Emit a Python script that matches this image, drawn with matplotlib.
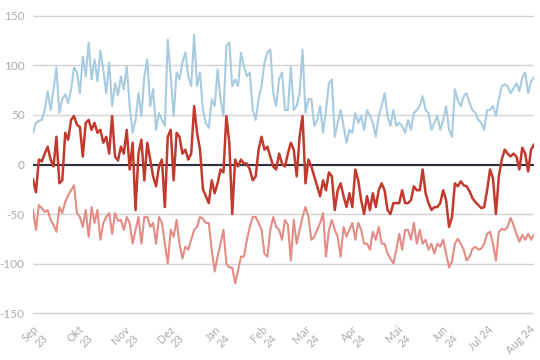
import matplotlib
matplotlib.use("Agg")
import matplotlib.pyplot as plt
import matplotlib.transforms as mtransforms
import pandas as pd
import numpy as np

plt.rcParams['axes.unicode_minus'] = False
plt.rcParams['font.family'] = ['Lato', 'DejaVu Sans']

dates = pd.date_range('2023-09-01', '2024-08-01', periods=172)

blue = [32, 42, 44, 45, 55, 74, 55, 76, 98, 52, 66, 71, 62, 76, 98, 93, 72, 109, 89, 123,
        86, 106, 84, 115, 96, 72, 103, 59, 82, 70,
        89, 76, 99, 59, 32, 45, 72, 49, 89, 106, 59, 76, 35, 52, 45, 39, 126, 89, 49, 93,
        86, 103, 113, 89, 79, 131, 79, 93, 55,
        42, 37, 66, 59, 96, 66, 49, 120, 123, 79, 86, 79, 113, 99, 89, 93, 55, 45, 66, 79,
        103, 113, 116, 72, 59, 86, 93, 55, 55,
        99, 55, 59, 72, 116, 52, 66, 66, 39, 45, 59, 32, 55, 82, 86, 28, 42, 55, 39, 22,
        35, 32, 52, 42, 49, 35, 55, 49, 42,
        28, 49, 59, 72, 49, 39, 55, 39, 42, 39, 32, 45, 35, 52, 55, 59, 69, 55, 52, 35,
        42, 49, 35, 45, 59, 35, 28, 76, 65,
        59, 69, 72, 62, 55, 52, 45, 42, 35, 55, 55, 59, 49, 66, 79, 81, 79, 72, 77, 82,
        74, 88, 93, 72, 84, 88]

red = [-15, -28, 5, 3, 11, 18, 5, -2, 28, -19, -16, 32, 25, 45, 49, 40, 38, 8, 42, 45,
       35, 42, 32, 35, 22, 28, 11, 49, 8, 4,
       18, 11, 35, -5, 22, -46, 11, 25, -16, 22, 5, -12, -22, -2, 5, -43, 28, 35, -16, 32,
       28, 11, 15, 5, 11, 59, 32, 15, -25,
       -32, -39, -16, -29, -19, -5, -8, 49, 22, -50, 5, -2, 5, 1, 1, -5, -16, -12, 15, 28,
       15, 18, 8, -2, -5, 11, 1, -2, 11,
       22, 15, -12, 28, 49, -19, 5, -2, -12, -22, -32, -16, -26, -8, -12, -46, -26, -19, -32, -43,
       -29, -43, -5, -16, -36, -50, -32, -46, -29,
       -43, -26, -19, -26, -46, -50, -39, -39, -39, -26, -39, -39, -36, -22, -26, -26, -5, -29, -39, -46,
       -43, -43, -39, -26, -36, -63, -53, -19, -22,
       -17, -21, -22, -27, -34, -38, -41, -44, -43, -26, -5, -14, -50, -12, 5, 15, 11, 8, 11, 8,
       -5, 17, 11, -7, 15, 20]

salmon = [-46, -66, -41, -44, -48, -46, -56, -61, -68, -43, -49, -38, -31, -26, -21, -49, -53, -63, -46, -73,
          -43, -59, -46, -76, -59, -53, -49, -70, -49, -57,
          -56, -66, -53, -59, -80, -66, -53, -80, -53, -53, -63, -59, -80, -53, -59, -80, -100, -66, -73, -56,
          -80, -95, -83, -86, -76, -66, -63, -53, -55,
          -59, -59, -86, -108, -93, -80, -66, -100, -104, -104, -120, -107, -93, -93, -76, -63, -53, -53, -59, -66,
          -90, -93, -66, -53, -63, -66, -76, -56, -61,
          -97, -56, -80, -66, -53, -43, -53, -76, -73, -66, -59, -49, -93, -66, -56, -66, -73, -93, -63, -73,
          -66, -59, -76, -59, -66, -80, -80, -86, -68,
          -76, -63, -80, -80, -90, -95, -100, -86, -70, -86, -66, -66, -76, -59, -80, -66, -80, -76, -86, -80,
          -90, -80, -83, -76, -90, -104, -98, -80, -75,
          -80, -86, -97, -93, -85, -83, -86, -85, -80, -70, -68, -80, -97, -68, -65, -66, -63, -54, -61, -70,
          -78, -71, -76, -70, -76, -71]

tick_dates = pd.date_range('2023-09-01', '2024-08-01', freq='MS')
tick_labels = ['Sep\n23', 'Okt\n23', 'Nov\n23', 'Dez\n23', 'Jan\n24', 'Feb\n24',
               'Mar\n24', 'Apr\n24', 'Mai\n24', 'Jun\n24', 'Jul 24', 'Aug 24']
y_ticks = [-150, -100, -50, 0, 50, 100, 150]

fig = plt.figure(figsize=(5.4, 3.6), dpi=100)
ax = fig.add_axes([33 / 540, 1 - 318 / 360, 501 / 540, 307 / 360])

ax.plot(dates, blue, color='#a9cbe0', lw=1.5, zorder=3)
ax.plot(dates, salmon, color='#e38d86', lw=1.5, zorder=3)
ax.axhline(0, color='#2e3040', lw=1.5, zorder=4)
ax.plot(dates, red, color='#c23a2e', lw=1.8, zorder=5)

ax.set_xlim(dates[0], dates[-1])
ax.set_ylim(-155, 155)
ax.set_yticks(y_ticks)
ax.set_yticklabels([str(v) for v in y_ticks])
ax.grid(axis='y', color='#d4d4d4', lw=1)
ax.set_axisbelow(True)
for s in ax.spines.values():
    s.set_visible(False)

ax.set_xticks(tick_dates)
ax.set_xticklabels(tick_labels)
ax.tick_params(axis='both', length=0, colors='#ababab', labelsize=8)
ax.tick_params(axis='y', pad=6, labelsize=8.5)
ax.tick_params(axis='x', pad=4)
xlabs = ax.get_xticklabels()
for lab in xlabs:
    lab.set_rotation(45)
    lab.set_ha('right')
    lab.set_va('top')
    lab.set_rotation_mode('anchor')
    lab.set_multialignment('right')
shift = mtransforms.ScaledTranslation(-5 / 100, 0, fig.dpi_scale_trans)
xlabs[-1].set_transform(xlabs[-1].get_transform() + shift)

fig.savefig('out.png', dpi=100)
